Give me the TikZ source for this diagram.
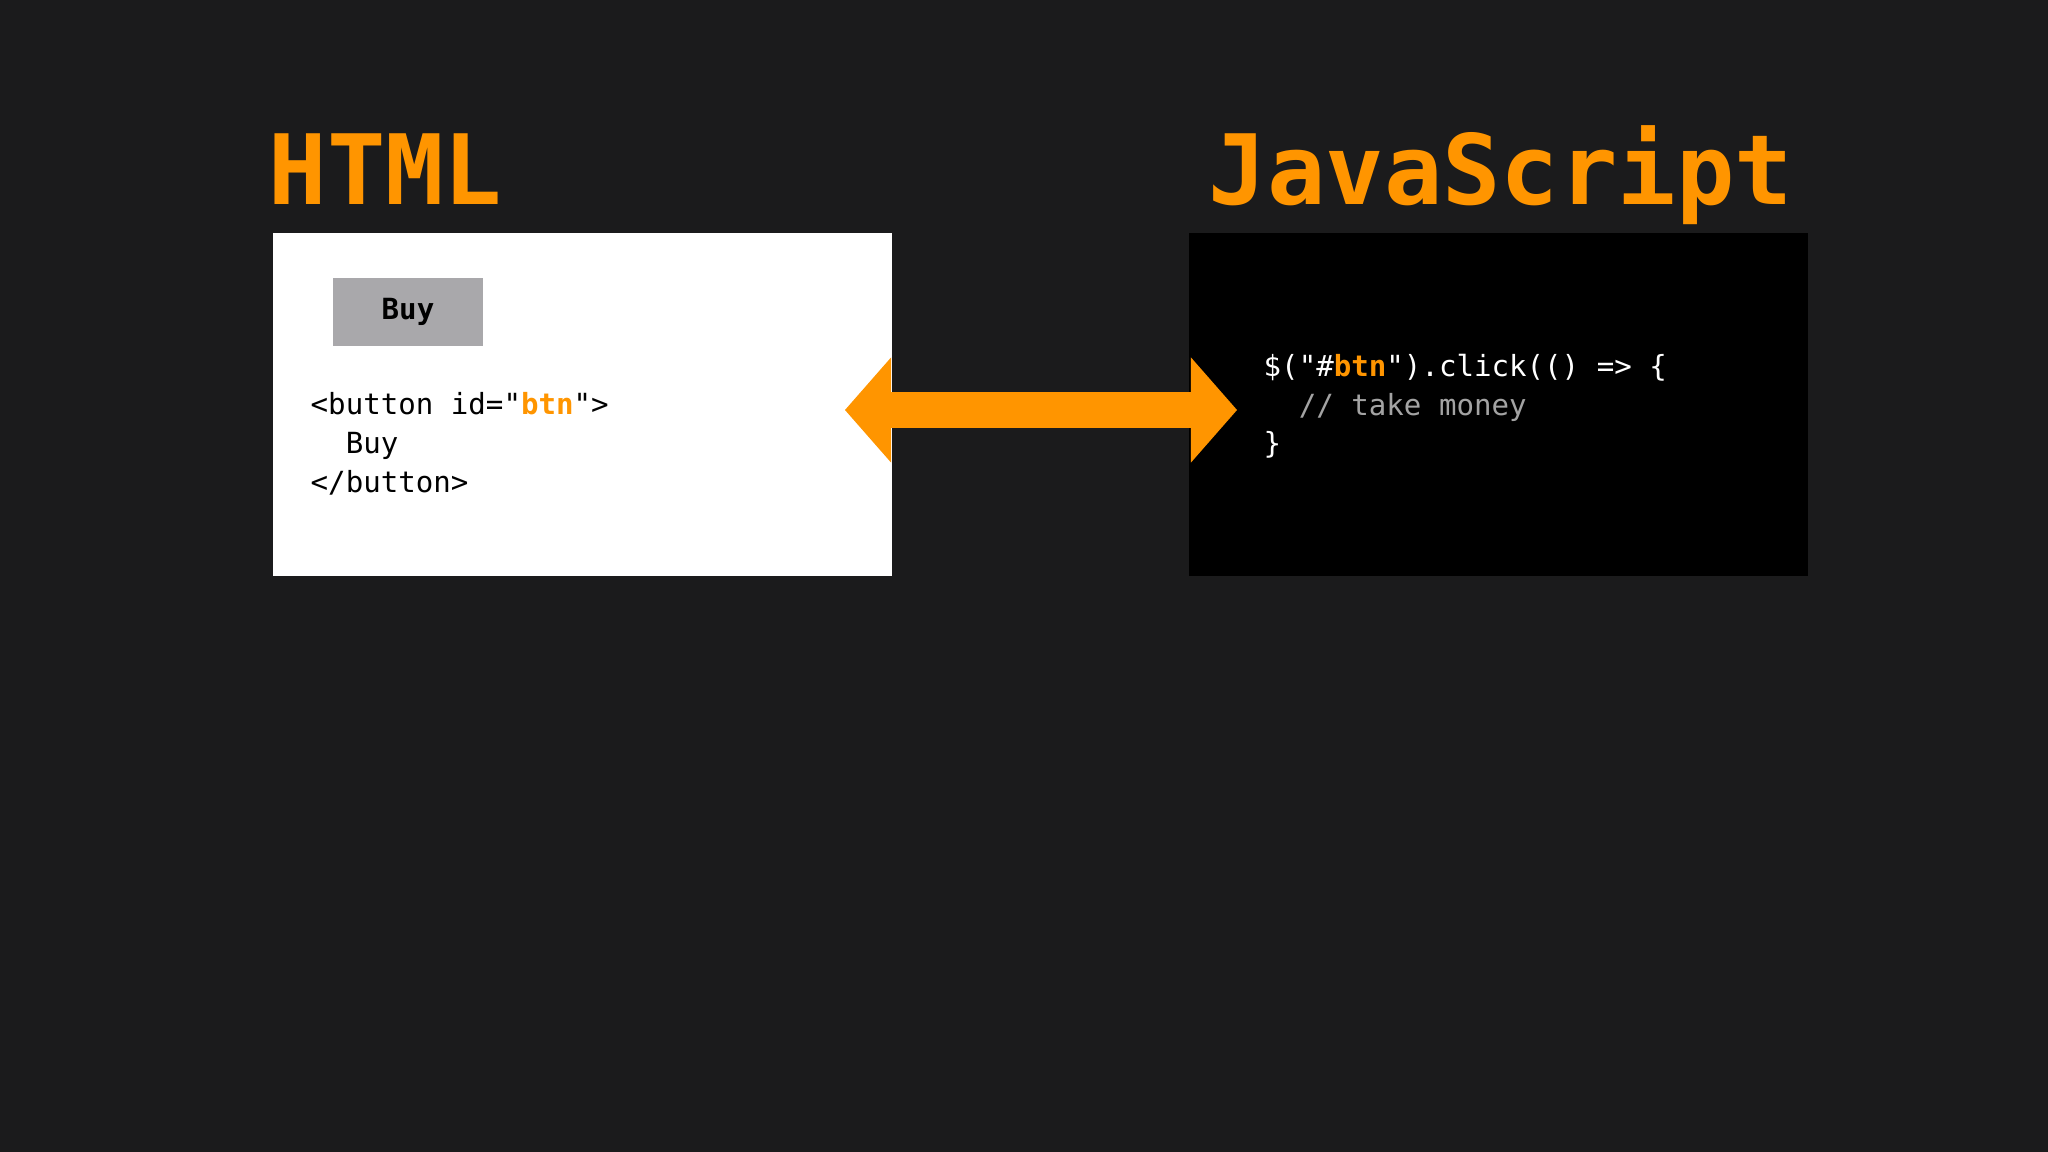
\documentclass[tikz,border=0pt]{standalone}
\usepackage{fontspec}
\usepackage{xcolor}
\usetikzlibrary{arrows.meta}
\newfontfamily\codefont{DejaVu Sans Mono}
\definecolor{bgdark}{HTML}{1B1B1C}
\definecolor{orng}{HTML}{FF9500}
\definecolor{btngray}{HTML}{A9A8AB}
\definecolor{cmnt}{HTML}{A3A3A3}
\newcommand{\hl}[1]{\textcolor{orng}{\bfseries #1}}

\begin{document}
\begin{tikzpicture}[x=0.01cm, y=-0.01cm,
  ttl/.style={font=\codefont\bfseries\fontsize{27.6pt}{30pt}\selectfont,
    text=orng, anchor=base west, inner sep=0pt},
  code/.style={font=\codefont\fontsize{8.28pt}{10.95pt}\selectfont,
    anchor=base west, inner sep=0pt, align=left},
  panel/.style={minimum width=6.19cm, minimum height=3.43cm, inner sep=0pt,
    anchor=north west},
  bigarr/.style={draw=orng, line width=0.35cm,
    {Triangle[length=0.46cm, width=1.05cm, line width=0pt]}-{Triangle[length=0.46cm, width=1.05cm, line width=0pt]}}]
\useasboundingbox[fill=bgdark] (0,0) rectangle (2048,1152);
% ---- titles ----
\node[ttl] (htmltitle) at (268,205) {HTML};
\node[ttl] (jstitle) at (1208,205) {JavaScript};
% ---- left panel: markup ----
\node[panel, fill=white] (htmlbox) at (272,232) {};
\node[fill=btngray, minimum width=1.5cm, minimum height=0.68cm, inner sep=0pt,
  font=\codefont\bfseries\fontsize{8.28pt}{10pt}\selectfont] (buybtn) at (408,312) {Buy};
% base anchor sits on the last line
\node[code] (htmlcode) at (310,492)
  {<button id="\hl{btn}">\\ \phantom{xx}Buy\\ </button>};
% ---- right panel: script ----
\node[panel, fill=black] (jsbox) at (1188,232) {};
\node[code, text=white] (jscode) at (1263,454)
  {\$("\#\hl{btn}").click(() => \{\\
   \phantom{xx}\textcolor{cmnt}{// take money}\\ \}};
% ---- two-way link ----
\coordinate (ltip) at (845,410);
\coordinate (rtip) at (1237,410);
\draw[bigarr] (ltip) -- (rtip);
\end{tikzpicture}
\end{document}
